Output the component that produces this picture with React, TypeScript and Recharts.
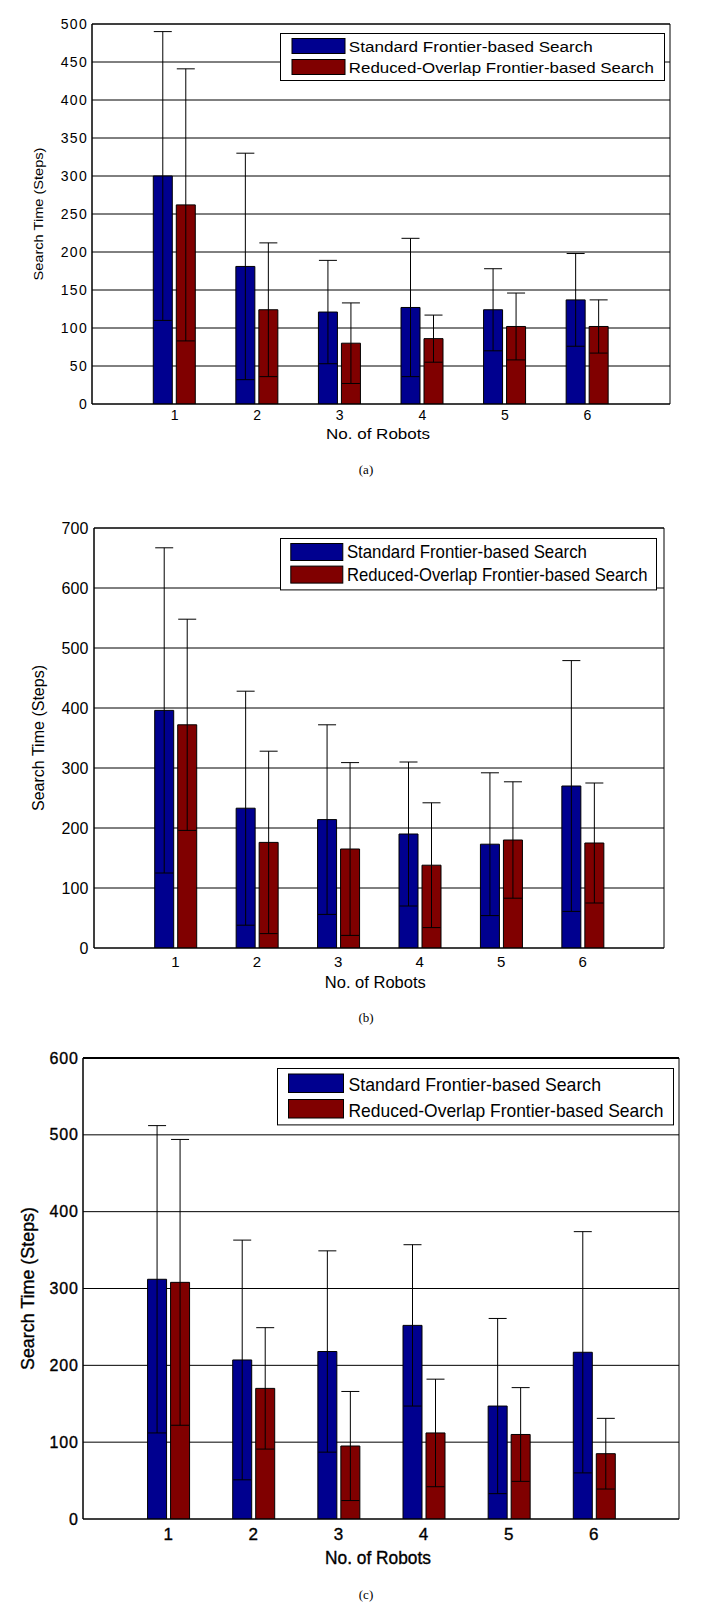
import React from 'react';
import { BarChart, Bar, XAxis, YAxis, CartesianGrid, ErrorBar, Legend } from 'recharts';

const robots = ['1', '2', '3', '4', '5', '6'];
const seriesNames = ['Standard Frontier-based Search', 'Reduced-Overlap Frontier-based Search'];
const seriesColors = ['#00008F', '#800000'];
const xAxisTitle = 'No. of Robots';
const yAxisTitle = 'Search Time (Steps)';

const aStdMean = [300, 181, 121, 127, 124, 137];
const aStdErr = [190, 149, 68, 91, 54, 61];
const aRedMean = [262, 124, 80, 86, 102, 102];
const aRedErr = [179, 88, 53, 31, 44, 35];
const aTicks = [0, 50, 100, 150, 200, 250, 300, 350, 400, 450, 500];

const bStdMean = [396, 233, 214, 190, 173, 270];
const bStdErr = [271, 195, 158, 120, 119, 209];
const bRedMean = [372, 176, 165, 138, 180, 175];
const bRedErr = [176, 152, 144, 104, 97, 100];
const bTicks = [0, 100, 200, 300, 400, 500, 600, 700];

const cStdMean = [312, 207, 218, 252, 147, 217];
const cStdErr = [200, 156, 131, 105, 114, 157];
const cRedMean = [308, 170, 95, 112, 110, 85];
const cRedErr = [186, 79, 71, 70, 61, 46];
const cTicks = [0, 100, 200, 300, 400, 500, 600];

const FONT = "'Liberation Sans', Arial, Helvetica, sans-serif";

function buildRows(stdMean: number[], stdErr: number[], redMean: number[], redErr: number[]) {
  return robots.map((r, i) => ({
    robot: r,
    std: stdMean[i],
    stdErr: stdErr[i],
    red: redMean[i],
    redErr: redErr[i],
  }));
}

const layoutA = {
  top: 0, height: 450, plotTop: 24, plotBottom: 404, plotLeft: 92, plotRight: 670,
  yTickFont: 14, yTickSpacing: 1.3, yTickGap: 4,
  xTickFont: 14, xTickDy: 11.4,
  yLabelFont: 13, yLabelLen: 133, yLabelX: 38,
  xLabelFont: 15, xLabelLen: 104, xLabelDy: 30, xLabelShift: -3,
  axisTextStroke: 0,
  legend: { left: 280, top: 32.5, w: 384, h: 47, swX: 11.5, swW: 53, sw1Y: 5, sw2Y: 26, swH: 15, textX: 68.8, t1: 13.3, t2: 34.3, font: 15.5, len1: 244, len2: 305 },
  topStroke: 1,
  caption: '(a)', captionY: 470,
};

const layoutB = {
  top: 490, height: 505, plotTop: 38, plotBottom: 458, plotLeft: 94, plotRight: 664,
  yTickFont: 16, yTickSpacing: 0, yTickGap: 5.7,
  xTickFont: 15, xTickDy: 13.2,
  yLabelFont: 16, yLabelLen: 146, yLabelX: 38.8,
  xLabelFont: 16, xLabelLen: 101, xLabelDy: 34.2, xLabelShift: -3.7,
  axisTextStroke: 0,
  legend: { left: 279.6, top: 47.6, w: 376, h: 51.4, swX: 10.3, swW: 52, sw1Y: 5, sw2Y: 27.6, swH: 17, textX: 66.9, t1: 13.3, t2: 36.6, font: 18.5, len1: 240, len2: 300.5 },
  topStroke: 1,
  caption: '(b)', captionY: 1018,
};

const layoutC = {
  top: 1020, height: 562, plotTop: 38, plotBottom: 499, plotLeft: 83, plotRight: 679,
  yTickFont: 16, yTickSpacing: 0.8, yTickGap: 4.4,
  xTickFont: 17, xTickDy: 14.7,
  yLabelFont: 18, yLabelLen: 163, yLabelX: 28,
  xLabelFont: 18, xLabelLen: 106, xLabelDy: 38.3, xLabelShift: -3,
  axisTextStroke: 0.35,
  legend: { left: 277, top: 48.1, w: 396, h: 56.4, swX: 11, swW: 55, sw1Y: 5.5, sw2Y: 31, swH: 18.5, textX: 71.5, t1: 16, t2: 42.2, font: 18.5, len1: 252.5, len2: 315 },
  topStroke: 2,
  caption: '(c)', captionY: 1595,
};

type Layout = typeof layoutA;

function Panel({ cfg, data, ticks }: { cfg: Layout; data: any[]; ticks: number[] }) {
  const W = 709;
  const plotW = cfg.plotRight - cfg.plotLeft;
  const pad = plotW / 14;
  const lg = cfg.legend;
  const legendSvgW = lg.w + 40;
  const textStroke = cfg.axisTextStroke > 0 ? { stroke: '#000', strokeWidth: cfg.axisTextStroke } : {};

  const yTick = (p: any) => (
    <text
      x={p.x}
      y={p.y}
      dy="0.35em"
      textAnchor="end"
      fontFamily={FONT}
      fontSize={cfg.yTickFont}
      letterSpacing={cfg.yTickSpacing}
      fill="#000"
      {...textStroke}
    >
      {p.payload.value}
    </text>
  );

  const xTick = (p: any) => (
    <text
      x={p.x}
      y={p.y + cfg.xTickDy}
      dy="0.36em"
      textAnchor="middle"
      fontFamily={FONT}
      fontSize={cfg.xTickFont}
      fill="#000"
      {...textStroke}
    >
      {p.payload.value}
    </text>
  );

  const yLabel = () => {
    const cy = (cfg.plotTop + cfg.plotBottom) / 2;
    return (
      <text
        x={cfg.yLabelX}
        y={cy}
        dy="0.35em"
        transform={`rotate(-90 ${cfg.yLabelX} ${cy})`}
        textAnchor="middle"
        fontFamily={FONT}
        fontSize={cfg.yLabelFont}
        textLength={cfg.yLabelLen}
        lengthAdjust="spacingAndGlyphs"
        fill="#000"
        {...textStroke}
      >
        {yAxisTitle}
      </text>
    );
  };

  const xLabel = () => (
    <text
      x={(cfg.plotLeft + cfg.plotRight) / 2 + cfg.xLabelShift}
      y={cfg.plotBottom + cfg.xLabelDy}
      dy="0.36em"
      textAnchor="middle"
      fontFamily={FONT}
      fontSize={cfg.xLabelFont}
      textLength={cfg.xLabelLen}
      lengthAdjust="spacingAndGlyphs"
      fill="#000"
      {...textStroke}
    >
      {xAxisTitle}
    </text>
  );

  const legendContent = () => (
    <svg width={legendSvgW} height={lg.h + 2} style={{ display: 'block', overflow: 'visible' }}>
      <rect x={0.5} y={0.5} width={lg.w} height={lg.h} fill="#fff" stroke="#000" strokeWidth={1} />
      {seriesNames.map((name, i) => {
        const sy = i === 0 ? lg.sw1Y : lg.sw2Y;
        const ty = i === 0 ? lg.t1 : lg.t2;
        return (
          <g key={name}>
            <rect x={lg.swX + 0.5} y={sy + 0.5} width={lg.swW} height={lg.swH} fill={seriesColors[i]} stroke="#000" strokeWidth={1} />
            <text
              x={lg.textX}
              y={ty}
              dy="0.36em"
              fontFamily={FONT}
              fontSize={lg.font}
              textLength={i === 0 ? lg.len1 : lg.len2}
              lengthAdjust="spacingAndGlyphs"
              fill="#000"
            >
              {name}
            </text>
          </g>
        );
      })}
    </svg>
  );

  return (
    <div style={{ position: 'absolute', left: 0, top: cfg.top, width: W, height: cfg.height }}>
      <BarChart
        width={W}
        height={cfg.height}
        data={data}
        margin={{ top: cfg.plotTop, right: W - cfg.plotRight, bottom: 0, left: 0 }}
        barSize={19}
        barGap={4}
      >
        <CartesianGrid
          stroke="#000"
          strokeWidth={1}
          verticalCoordinatesGenerator={(props: any) =>
            props && props.offset ? [props.offset.left, props.offset.left + props.offset.width] : []
          }
        />
        <XAxis
          dataKey="robot"
          height={cfg.height - cfg.plotBottom}
          padding={{ left: pad, right: pad }}
          axisLine={{ stroke: '#000' }}
          tickLine={false}
          tickSize={0}
          tickMargin={0}
          tick={xTick}
          interval={0}
          label={xLabel}
        />
        <XAxis
          xAxisId="top"
          orientation="top"
          dataKey="robot"
          mirror
          height={1}
          padding={{ left: pad, right: pad }}
          tick={false}
          tickLine={{ stroke: '#000' }}
          tickSize={5}
          interval={0}
          axisLine={{ stroke: '#000', strokeWidth: cfg.topStroke }}
        />
        <XAxis
          xAxisId="bot"
          orientation="bottom"
          dataKey="robot"
          mirror
          height={1}
          padding={{ left: pad, right: pad }}
          tick={false}
          tickLine={{ stroke: '#000' }}
          tickSize={5}
          interval={0}
          axisLine={false}
        />
        <YAxis
          type="number"
          width={cfg.plotLeft}
          domain={[0, ticks[ticks.length - 1]]}
          ticks={ticks}
          interval={0}
          allowDataOverflow
          axisLine={{ stroke: '#000' }}
          tickLine={false}
          tickSize={0}
          tickMargin={cfg.yTickGap}
          tick={yTick}
          label={yLabel}
        />
        <Bar dataKey="std" name={seriesNames[0]} fill={seriesColors[0]} stroke="#000" strokeWidth={1} isAnimationActive={false}>
          <ErrorBar dataKey="stdErr" width={9} stroke="#000" strokeWidth={1} direction="y" isAnimationActive={false} />
        </Bar>
        <Bar dataKey="red" name={seriesNames[1]} fill={seriesColors[1]} stroke="#000" strokeWidth={1} isAnimationActive={false}>
          <ErrorBar dataKey="redErr" width={9} stroke="#000" strokeWidth={1} direction="y" isAnimationActive={false} />
        </Bar>
        <Legend
          layout="vertical"
          align="center"
          verticalAlign="middle"
          wrapperStyle={{ position: 'absolute', left: lg.left, top: lg.top, width: legendSvgW, height: lg.h + 2, margin: 0, padding: 0 }}
          content={legendContent}
        />
      </BarChart>
    </div>
  );
}

function Caption({ text, y }: { text: string; y: number }) {
  return (
    <div
      style={{
        position: 'absolute',
        left: 266,
        width: 200,
        top: y - 8,
        height: 16,
        lineHeight: '16px',
        textAlign: 'center',
        fontFamily: "'Liberation Serif', 'Times New Roman', serif",
        fontSize: 13,
        color: '#000',
      }}
    >
      {text}
    </div>
  );
}

export default function App() {
  const dataA = buildRows(aStdMean, aStdErr, aRedMean, aRedErr);
  const dataB = buildRows(bStdMean, bStdErr, bRedMean, bRedErr);
  const dataC = buildRows(cStdMean, cStdErr, cRedMean, cRedErr);
  return (
    <div style={{ position: 'absolute', left: 0, top: 0, width: 709, height: 1609, background: '#fff', overflow: 'hidden' }}>
      <Panel cfg={layoutA} data={dataA} ticks={aTicks} />
      <Caption text={layoutA.caption} y={layoutA.captionY} />
      <Panel cfg={layoutB} data={dataB} ticks={bTicks} />
      <Caption text={layoutB.caption} y={layoutB.captionY} />
      <Panel cfg={layoutC} data={dataC} ticks={cTicks} />
      <Caption text={layoutC.caption} y={layoutC.captionY} />
    </div>
  );
}
